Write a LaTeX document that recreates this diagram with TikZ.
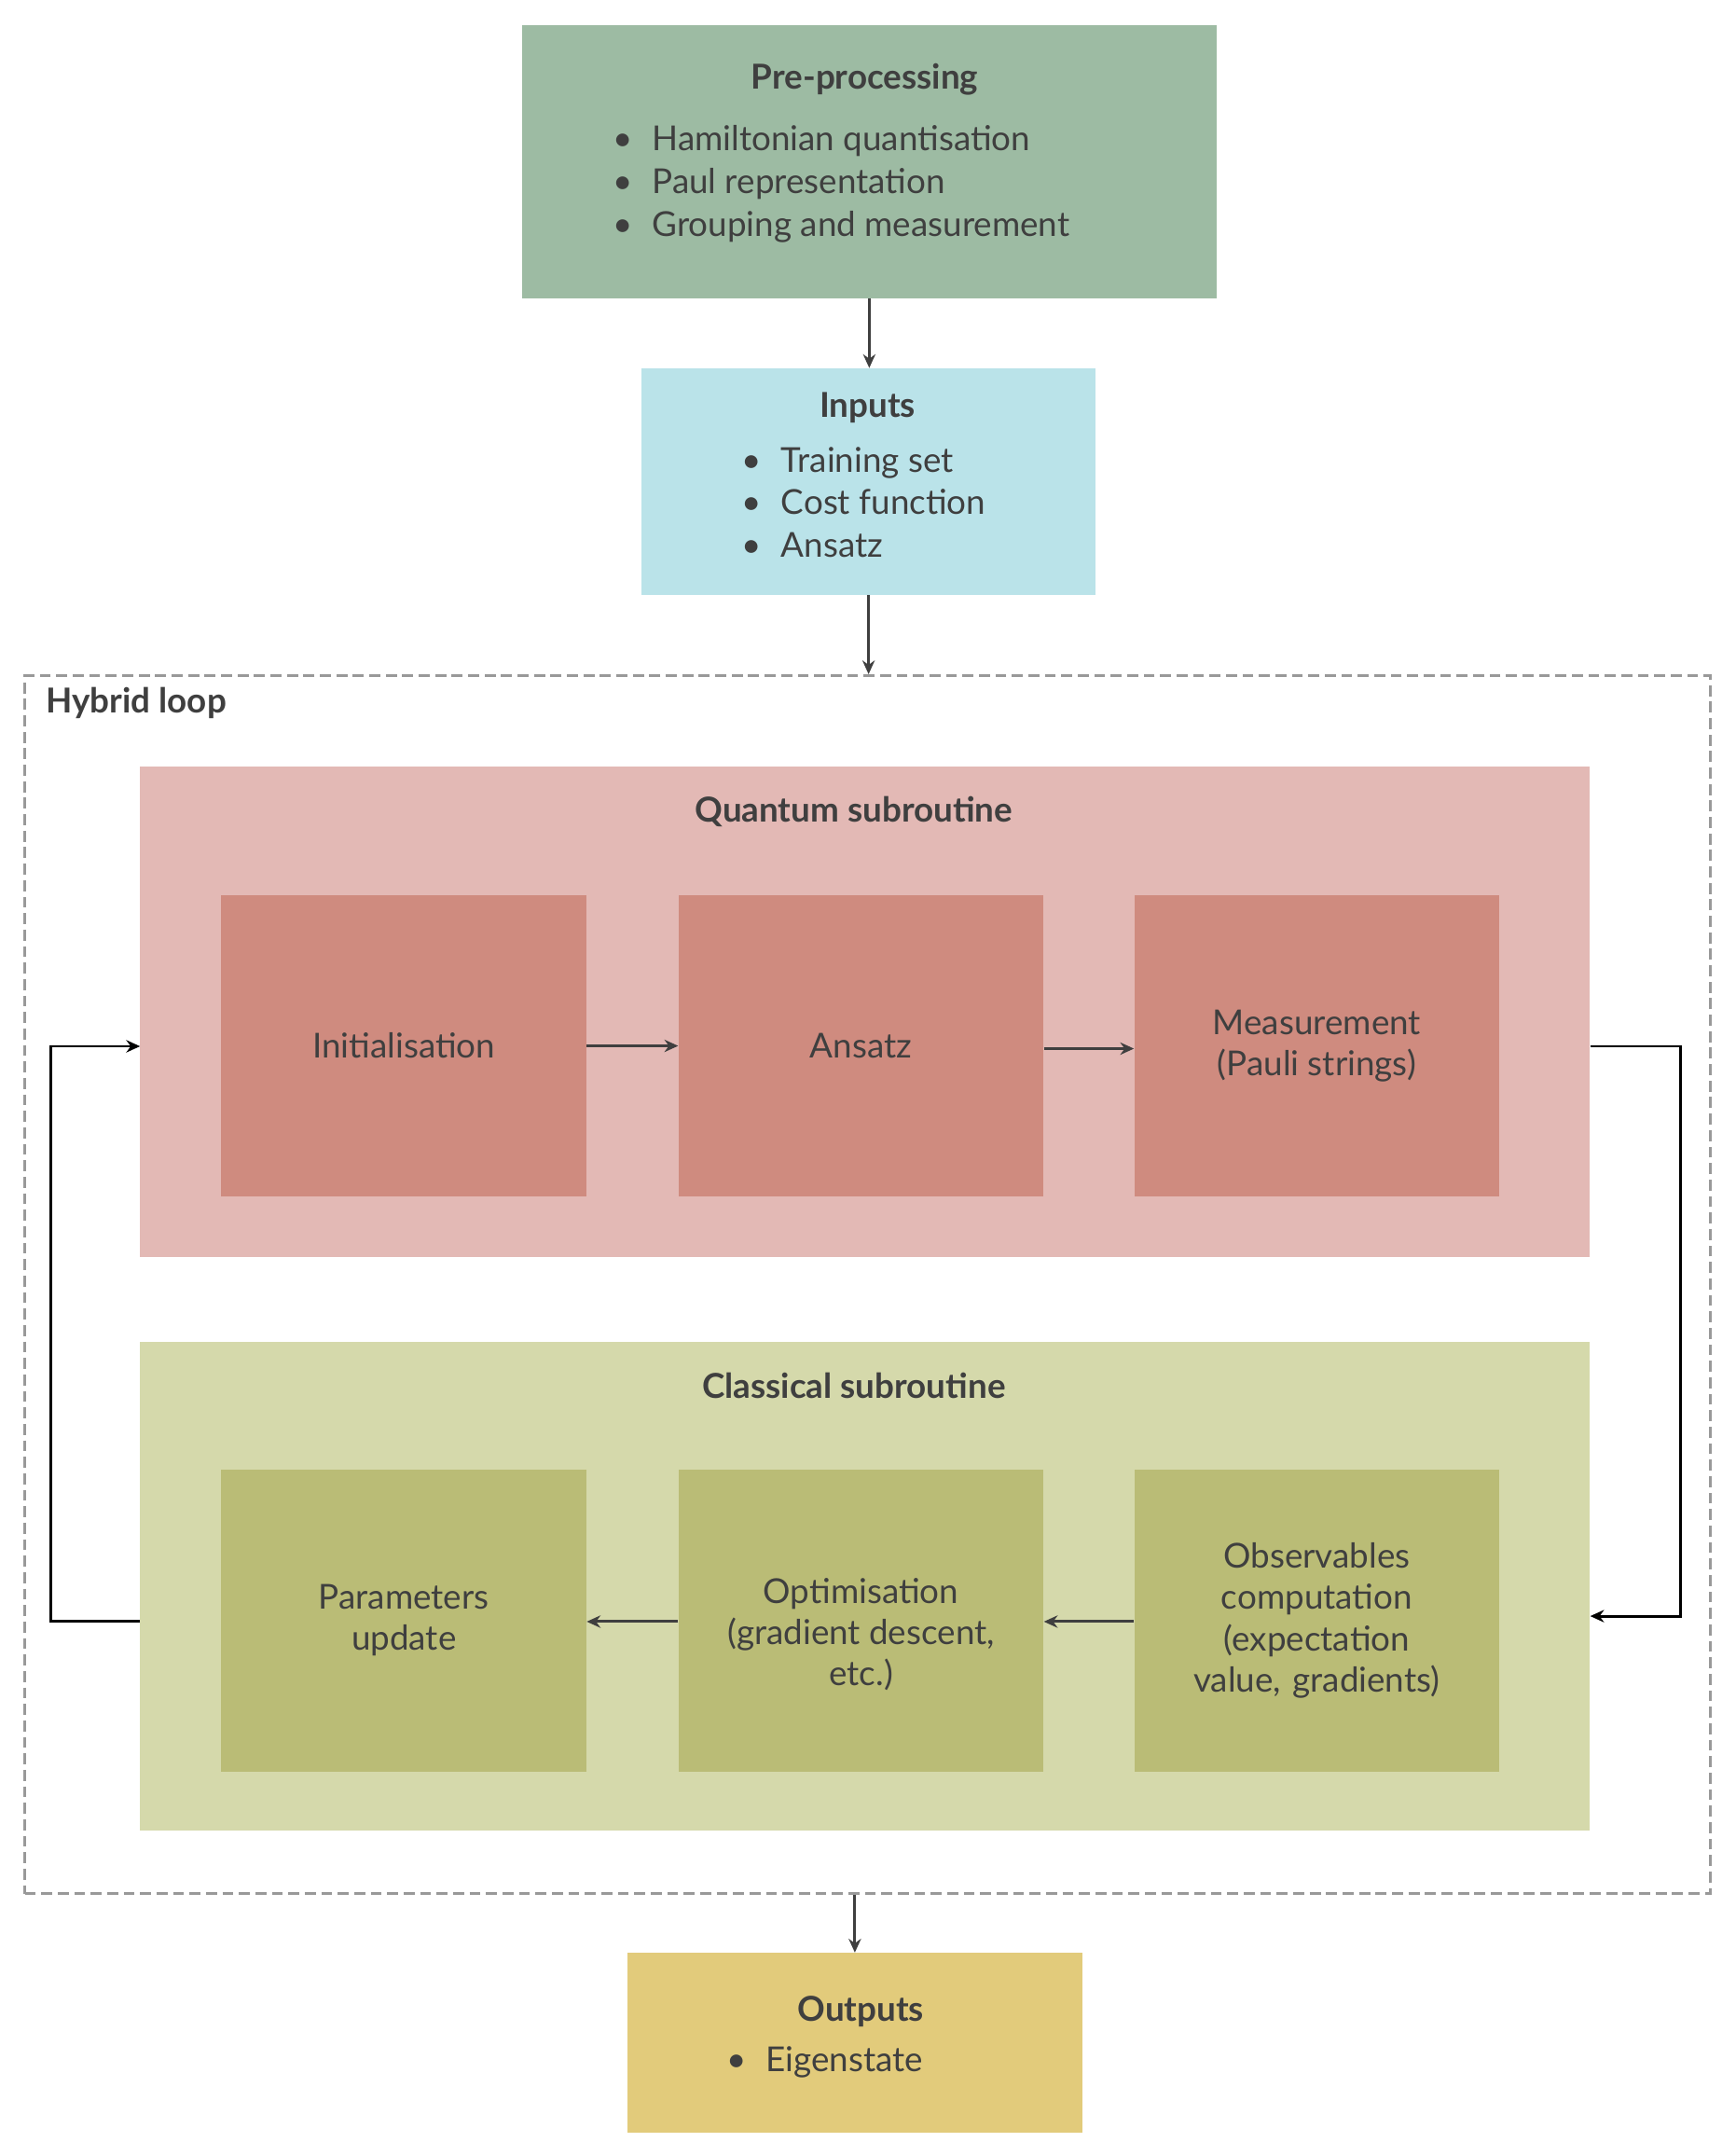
\documentclass[tikz,border=0pt]{standalone}
\usepackage{fontspec}
\setmainfont{Lato}
\usetikzlibrary{arrows.meta}
\definecolor{tx}{HTML}{3F3F3F}
\definecolor{pre}{HTML}{9DBBA3}
\definecolor{inp}{HTML}{BAE3E9}
\definecolor{qo}{HTML}{E3B9B5}
\definecolor{qi}{HTML}{CF8B7F}
\definecolor{co}{HTML}{D5D9AB}
\definecolor{ci}{HTML}{BABC76}
\definecolor{out}{HTML}{E2CB7B}
\begin{document}
\begin{tikzpicture}[x=1pt,y=-1pt,
 box/.style={draw=none,inner sep=0,anchor=north west},
 lbl/.style={text=tx,font=\fontsize{25}{30}\selectfont,align=center},
 ttl/.style={text=tx,font=\fontsize{25}{30}\selectfont\bfseries,align=center},
 bl/.style={text=tx,font=\fontsize{25}{31}\selectfont,align=left,anchor=north west},
 arr/.style={draw=tx,line width=2pt,-{Stealth[length=10pt,width=9pt]}}]
\useasboundingbox (0,0) rectangle (1264,1560);
% boxes
\node[box,fill=pre,minimum width=506pt,minimum height=199pt] (pre) at (380,18) {};
\node[box,fill=inp,minimum width=331pt,minimum height=165pt] (inp) at (467,268) {};
\node[box,draw=gray!80,dashed,dash pattern=on 8pt off 4pt,line width=2pt,minimum width=1228pt,minimum height=887pt] (hy) at (17,491) {};
\node[box,fill=qo,minimum width=1056pt,minimum height=357pt] (q) at (102,558) {};
\node[box,fill=co,minimum width=1056pt,minimum height=356pt] (c) at (102,977) {};
\node[box,fill=out,minimum width=331pt,minimum height=131pt] (out) at (457,1422) {};
\foreach \n/\x/\t in {ini/161/Initialisation,ans/494/Ansatz,mea/826/{Measurement\\(Pauli strings)}}
 \node[box,fill=qi,minimum width=266pt,minimum height=219pt] (\n) at (\x,652) {};
\foreach \n/\x in {par/161,opt/494,obs/826}
 \node[box,fill=ci,minimum width=266pt,minimum height=220pt] (\n) at (\x,1070) {};
% texts
\node[ttl] (tpre) at (630,58) {Pre-processing};
\node[bl] (bpre) at (443,88) {\textbullet\hspace{14pt}Hamiltonian quantisation\\\textbullet\hspace{14pt}Paul representation\\\textbullet\hspace{14pt}Grouping and measurement};
\node[ttl] (tinp) at (632,297) {Inputs};
\node[bl] (binp) at (537,322) {\textbullet\hspace{14pt}Training set\\\textbullet\hspace{14pt}Cost function\\\textbullet\hspace{14pt}Ansatz};
\node[ttl,anchor=west] (thy) at (30,512) {Hybrid loop};
\node[ttl] (tq) at (622,591) {Quantum subroutine};
\node[ttl] (tc) at (622,1009) {Classical subroutine};
\node[lbl] at (ini.center) {Initialisation};
\node[lbl] at (ans.center) {Ansatz};
\node[lbl] at (mea.center) {Measurement\\(Pauli strings)};
\node[lbl] at (par.center) {Parameters\\update};
\node[lbl] at ([yshift=-10pt]opt.center) {Optimisation\\(gradient descent,\\etc.)};
\node[lbl,text width=240pt] at (obs.center) {Observables\\computation\\(expectation\\value, gradients)};
\node[ttl] (tout) at (627,1465) {Outputs};
\node[bl] (bout) at (526,1487) {\textbullet\hspace{14pt}Eigenstate};
% arrows
\draw[arr] (pre.south) -- (inp.north -| pre.south);
\draw[arr] (inp.south) -- (hy.north -| inp.south);
\draw[arr] (hy.south -| out.north) -- (out.north);
\draw[arr] (ini.east) -- (ans.west);
\draw[arr] ([yshift=-2pt]ans.east) -- ([yshift=-2pt]mea.west);
\draw[arr] (obs.west |- 0,1181) -- (opt.east |- 0,1181);
\draw[arr] (opt.west |- 0,1181) -- (par.east |- 0,1181);
\coordinate (r1) at (1224,762); \coordinate (r2) at (1224,1177);
\coordinate (l1) at (37,1181); \coordinate (l2) at (37,762);
\draw[arr,draw=black] (q.east |- r1) -- (r1) -- (r2) -- (c.east |- r2);
\draw[arr,draw=black] (c.west |- l1) -- (l1) -- (l2) -- (q.west |- l2);
\end{tikzpicture}
\end{document}
